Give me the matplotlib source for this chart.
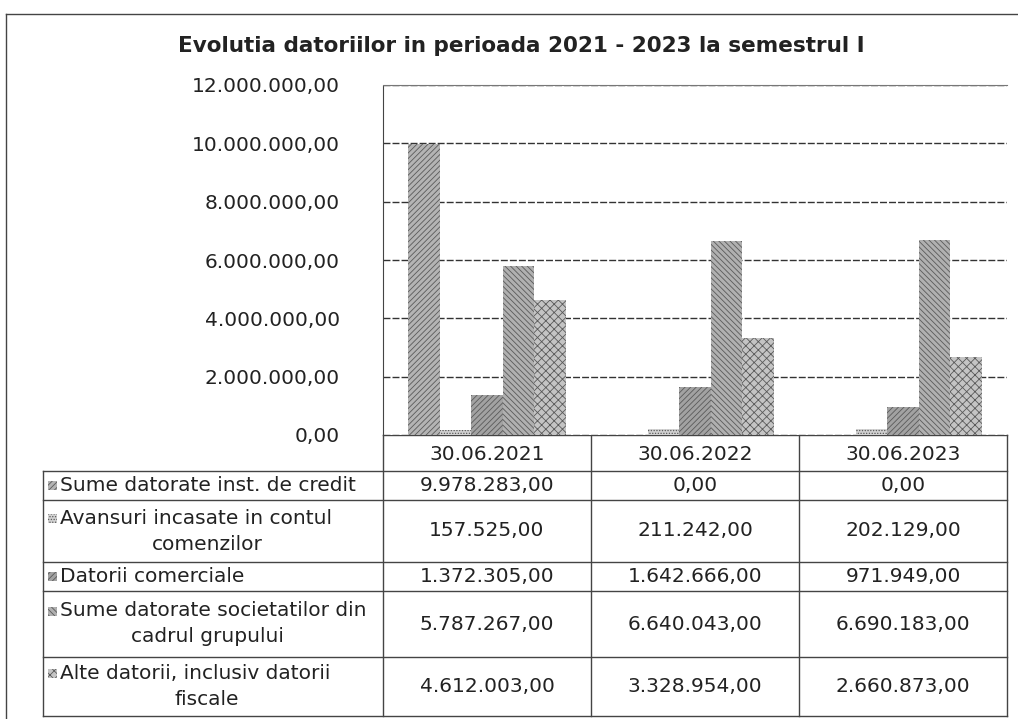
import matplotlib
matplotlib.use('Agg')
import matplotlib.pyplot as plt
from matplotlib.patches import Rectangle
import numpy as np

# data
dates = ['30.06.2021', '30.06.2022', '30.06.2023']
series_names = [
    'Sume datorate inst. de credit',
    'Avansuri incasate in contul\ncomenzilor',
    'Datorii comerciale',
    'Sume datorate societatilor din\ncadrul grupului',
    'Alte datorii, inclusiv datorii\nfiscale',
]
credit_inst = [9978283.00, 0.00, 0.00]
avansuri = [157525.00, 211242.00, 202129.00]
datorii_comerciale = [1372305.00, 1642666.00, 971949.00]
sume_grup = [5787267.00, 6640043.00, 6690183.00]
alte_datorii = [4612003.00, 3328954.00, 2660873.00]
yticks = [0, 2000000, 4000000, 6000000, 8000000, 10000000, 12000000]

values = [credit_inst, avansuri, datorii_comerciale, sume_grup, alte_datorii]
faces = ['#b4b4b4', '#d2d2d2', '#a2a2a2', '#b0b0b0', '#c4c4c4']
hatches = ['//////', '......', '//////', '\\\\\\\\\\\\', 'xxxx']

plt.rcParams['hatch.linewidth'] = 0.6
W, H = 1018, 719
fig = plt.figure(figsize=(W / 100, H / 100), dpi=100)
FS = 14.5

def fx(px):
    return px / W

def fy(py):
    return 1 - py / H

def ro_fmt(v):
    s = f'{v:,.2f}'
    return s.replace(',', '#').replace('.', ',').replace('#', '.')

# chart area in pixels
x0, x1 = 383, 1007
y_top, y_base = 85, 435
ax = fig.add_axes([fx(x0), fy(y_base), fx(x1) - fx(x0), fy(y_top) - fy(y_base)])
n = len(values)
bw = 0.152
x = np.arange(len(dates))
for i, vals in enumerate(values):
    ax.bar(x + (i - (n - 1) / 2) * bw, vals, bw, color=faces[i], hatch=hatches[i],
           edgecolor='#5a5a5a', linewidth=0, zorder=3)
ax.set_xlim(-0.5, len(dates) - 0.5)
ax.set_ylim(0, 12000000)
ax.set_yticks(yticks)
ax.set_yticklabels([ro_fmt(v) for v in yticks], fontsize=FS, color='#222')
ax.tick_params(axis='y', length=0, pad=31)
ax.set_xticks([])
ax.grid(axis='y', color='#333', linewidth=1, linestyle=(0, (5, 1.5)), zorder=1)
for s in ['right', 'bottom']:
    ax.spines[s].set_visible(False)
ax.spines['left'].set_linestyle((0, (2, 1)))
ax.spines['left'].set_color('#444')
ax.spines['top'].set_color('#777')

# table + frame overlay in pixel coordinates
tb = fig.add_axes([0, 0, 1, 1], zorder=-1)
tb.set_xlim(0, W)
tb.set_ylim(H, 0)
tb.axis('off')
lc = dict(color='#444', linewidth=1)

# outer frame (top and left visible)
tb.plot([6, W], [14, 14], **lc)
tb.plot([6, 6], [14, H], **lc)

fig.text(fx(521), fy(46), 'Evolutia datoriilor in perioada 2021 - 2023 la semestrul I',
         ha='center', va='center', fontsize=15.5, fontweight='bold', color='#222')

col_x = [43, 383, 591, 799, 1007]
row_y = [435, 471, 500, 562, 591, 657, 716]

# header row
tb.plot([383, 1007], [row_y[0], row_y[0]], **lc)
for cx in col_x[1:]:
    tb.plot([cx, cx], [row_y[0], row_y[-1]], **lc)
tb.plot([43, 43], [row_y[1], row_y[-1]], **lc)
for ry in row_y[1:]:
    tb.plot([43, 1007], [ry, ry], **lc)
for j, d in enumerate(dates):
    tb.text((col_x[j + 1] + col_x[j + 2]) / 2, (row_y[0] + row_y[1]) / 2 + 1, d,
            ha='center', va='center', fontsize=FS, color='#222')

for i, name in enumerate(series_names):
    top, bot = row_y[i + 1], row_y[i + 2]
    mid = (top + bot) / 2
    lines = name.split('\n')
    if len(lines) == 1:
        tb.text(60, mid, lines[0], ha='left', va='center', fontsize=FS, color='#222')
        key_y = mid
    else:
        tb.text(60, mid - 13, lines[0], ha='left', va='center', fontsize=FS, color='#222')
        tb.text(207, mid + 13, lines[1], ha='center', va='center', fontsize=FS, color='#222')
        key_y = mid - 13
    tb.add_patch(Rectangle((48, key_y - 4.5), 9, 9, facecolor=faces[i], hatch=hatches[i],
                           edgecolor='#5a5a5a', linewidth=0))
    for j in range(len(dates)):
        tb.text((col_x[j + 1] + col_x[j + 2]) / 2, mid, ro_fmt(values[i][j]),
                ha='center', va='center', fontsize=FS, color='#222')

fig.savefig('out.png', dpi=100)
